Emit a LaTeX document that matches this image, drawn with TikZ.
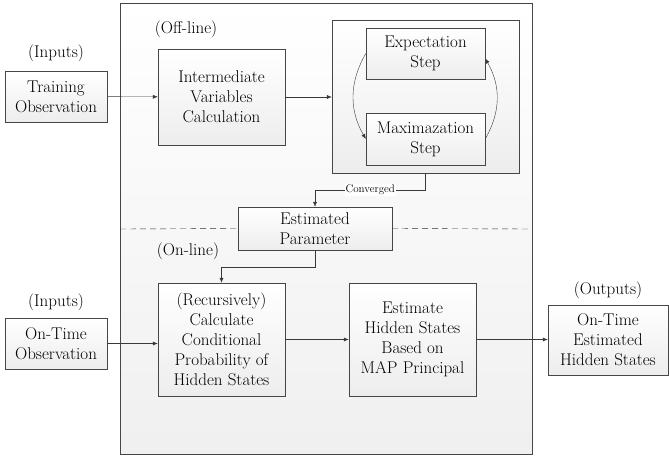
\documentclass[tikz,border=0pt]{standalone}
\usetikzlibrary{arrows.meta,shadows}
\begin{document}
\begin{tikzpicture}[x=1pt,y=-1pt,font=\fontsize{17}{20}\selectfont,
		stepbox/.style={rectangle,draw=gray!55!black,top color=white,bottom color=gray!14,align=center,inner sep=0pt,drop shadow={opacity=.25,shadow xshift=1pt,shadow yshift=-1pt}},
		tag/.style={inner sep=0pt},
		arr/.style={draw=gray!45!black,-{Latex[length=5pt,width=4pt]}}]
	\useasboundingbox (0,0) rectangle (669,458);
	\draw[gray!55!black,top color=white,bottom color=gray!12] (120,3) rectangle (532,454);
	\node[tag,anchor=center] (offtag) at (186,29) {(Off-line)};
	\node[tag,anchor=center] (ontag) at (188,251) {(On-line)};
	\node[tag,anchor=center] (intag1) at (56,53) {(Inputs)};
	\node[tag,anchor=center] (intag2) at (56,302) {(Inputs)};
	\node[tag,anchor=center] (outtag) at (608,290) {(Outputs)};
	\node[stepbox,minimum width=102,minimum height=51,anchor=center] (train) at (56,96.5)
		{Training\\Observation};
	\node[stepbox,minimum width=127,minimum height=96,anchor=center] (inter) at (221.5,97)
		{Intermediate\\Variables\\Calculation};
	\node[stepbox,minimum width=187,minimum height=153,anchor=center] (em) at (425.5,96.5) {};
	\node[stepbox,minimum width=119,minimum height=51,anchor=center] (expect) at (425.5,53.5)
		{Expectation\\Step};
	\node[stepbox,minimum width=119,minimum height=52,anchor=center] (maxim) at (425.5,139)
		{Maximazation\\Step};
	\node[stepbox,minimum width=154,minimum height=43,anchor=center] (est) at (315,228.5)
		{Estimated\\Parameter};
	\node[stepbox,minimum width=102,minimum height=51,anchor=center] (ot) at (56,343.5)
		{On-Time\\Observation};
	\node[stepbox,minimum width=127,minimum height=113,anchor=center] (rec) at (221.5,339.5)
		{(Recursively)\\Calculate\\Conditional\\Probability of\\Hidden States};
	\node[stepbox,minimum width=127,minimum height=113,anchor=center] (map) at (412.5,339.5)
		{Estimate\\Hidden States\\Based on\\MAP Principal};
	\node[stepbox,minimum width=120,minimum height=70,anchor=center] (out) at (608,340)
		{On-Time\\Estimated\\Hidden States};
	\draw[gray!40!black,dash pattern=on 6pt off 4pt] (120,229) -- (est.west);
	\draw[gray!40!black,dash pattern=on 6pt off 4pt] (est.east) -- (532,229);
	\draw[arr] (train) -- (inter);
	\draw[arr] (inter.east) -- (em.west |- inter.east);
	\draw[arr] (expect.west) to[out=240,in=120] (maxim.west);
	\draw[arr] (maxim.east) to[out=60,in=-60] ([yshift=-5]expect.east);
	\draw[arr] (em.south) |- (est.north |- 0,190)
		node[pos=.75,fill=white,inner sep=1pt,font=\fontsize{11}{12}\selectfont] {Converged}
		-- (est.north);
	\draw[arr] (est.south) -- (est.south |- 0,267) -| (rec.north);
	\draw[arr] (ot.east) -- (ot.east -| rec.west);
	\draw[arr] (rec) -- (map);
	\draw[arr] (map.east) -- (out.west |- map.east);
\end{tikzpicture}
\end{document}
